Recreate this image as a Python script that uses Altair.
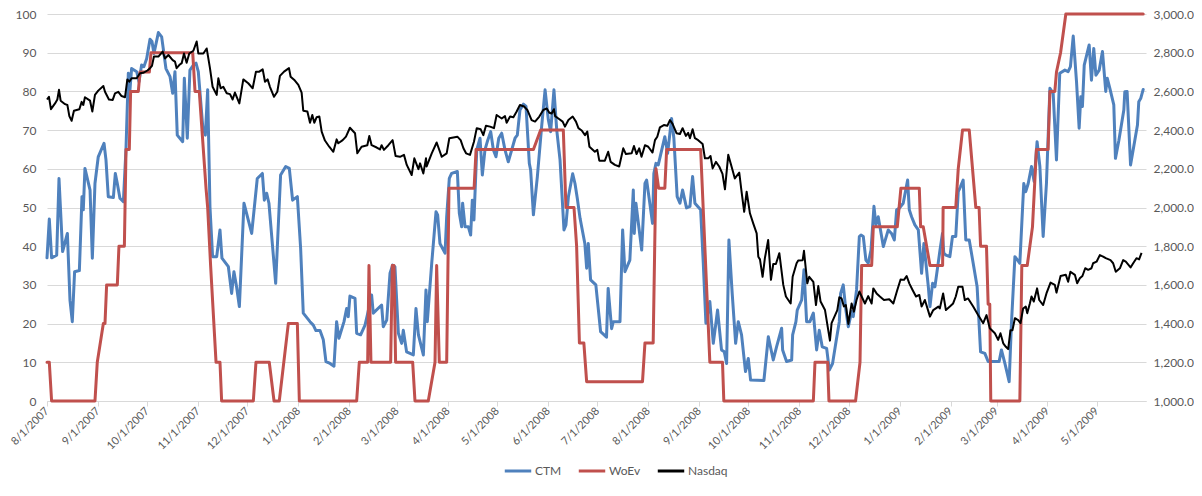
import altair as alt
import pandas as pd

# ---------------- data (days since 8/1/2007) ----------------
ctm_days = [
    0, 1.4, 2.8, 5.9, 7.3, 9.5, 12.4, 14.0, 15.4, 16.8,
    19.7, 21.3, 22.1, 23.1, 26.2, 27.6, 29.2, 31.2, 34.7, 35.9,
    37.3, 40.4, 41.6, 42.8, 44.4, 46.5, 48.1, 49.5, 50.5, 51.5,
    54.6, 56.0, 57.6, 59.0, 60.7, 62.7, 63.9, 65.1, 67.8, 69.8,
    72.4, 74.9, 76.5, 77.9, 79.3, 82.6, 83.6, 85.4, 87.0, 89.1,
    90.7, 92.1, 94.8, 96.4, 97.8, 99.2, 100.8, 103.3, 105.3, 106.5,
    110.4, 112.4, 113.8, 115.4, 117.1, 119.9, 124.6, 128.0, 131.1, 132.3,
    133.7, 135.1, 139.2, 142.2, 145.3, 147.5, 149.5, 152.4, 154.4, 156.0,
    160.1, 162.1, 163.7, 166.2, 168.2, 169.8, 172.3, 174.7, 176.3, 177.7,
    180.8, 182.4, 183.4, 184.4, 187.5, 188.5, 190.9, 193.6, 195.0, 197.6,
    198.6, 203.7, 204.7, 206.8, 208.8, 210.4, 211.8, 213.9, 215.9, 216.9,
    218.9,
    221.0, 223.0, 224.6, 226.1, 229.1, 230.7, 231.5, 234.2, 236.8, 237.8,
    239.2, 242.3, 243.3, 244.9, 246.3, 249.8, 251.0, 252.4, 253.0, 254.5,
    256.5, 257.9, 258.9, 259.9, 261.6, 263.6, 265.0, 266.6, 268.3, 270.1,
    271.7, 273.3, 275.0, 276.8, 278.8, 280.8, 282.9, 284.9, 286.3, 287.9,
    290.0, 291.6, 293.6, 294.4, 296.1, 298.5, 301.1, 303.2, 305.2, 306.6,
    308.6, 310.3, 312.3, 314.7, 315.9, 317.4, 320.0, 321.4, 322.8, 324.5,
    327.4, 328.5, 329.5, 330.9, 334.1, 337.0, 340.6, 341.6, 343.7, 344.7,
    348.8, 350.4, 351.8, 354.8, 356.9, 357.5, 358.5, 362.0, 364.0, 365.0,
    366.4, 368.6, 369.4, 370.7, 372.1, 376.1, 377.8, 380.2, 381.6, 383.6,
    385.3, 386.9, 389.3, 391.4, 393.0, 394.4, 397.9, 399.5, 401.1, 403.5,
    405.6, 408.2, 410.6, 412.3, 413.7, 415.1, 417.1, 419.2, 420.8, 422.8,
    425.2, 426.9, 428.3,
    436.4, 439.1, 442.1, 444.1, 447.2, 447.8, 450.2, 453.3, 453.9, 455.9,
    456.7, 459.4, 460.8, 462.4, 464.4, 466.5, 468.5, 470.1, 471.9, 474.6,
    476.2, 478.2, 480.3, 482.3, 483.1, 484.7, 486.3, 487.8, 489.8, 490.8,
    492.8, 494.5, 495.5, 496.9, 498.5, 499.9, 501.6, 503.4, 504.6, 506.0,
    509.1, 512.1, 514.1, 515.8, 517.2, 518.8, 521.2, 523.9, 524.9, 526.3,
    528.3, 530.4, 532.4, 533.8, 536.5, 537.5, 539.1, 540.5, 543.6,
    545.1, 545.9, 547.2, 549.6, 551.2, 553.2, 554.7, 556.1, 557.7, 559.3,
    561.4, 563.8, 566.2, 568.3, 570.9, 572.9, 579.6, 581.0, 583.1, 585.7,
    587.1, 589.2, 592.2, 594.6, 595.8, 597.3, 599.3, 600.9, 602.7, 604.4,
    606.4, 608.4, 610.5, 612.5, 614.5, 616.5, 619.6, 621.6, 623.0, 624.7,
    626.7, 628.3, 629.3, 630.3, 631.4, 634.4, 635.8, 637.2, 638.5, 640.5,
    642.5, 644.5, 645.4, 647.0, 649.4, 650.4, 652.5, 655.5, 656.1, 657.5,
    659.6, 662.2, 663.8, 664.6, 665.8, 667.3,
]
ctm_values = [
    37, 47, 37, 37.7, 57.5, 38.6, 43.3, 26, 20.5, 33.4,
    33.7, 52.8, 49.4, 60.1, 54.5, 36.9, 56.2, 63.1, 66.6, 62.3,
    52.8, 52.6, 58.8, 56.2, 52.4, 51.5, 65.3, 84.7, 80.4, 85.9,
    85.1, 82.5, 86.8, 86.4, 88.5, 93.5, 92.9, 89.8, 95.2, 94.1,
    85.9, 83.8, 79.5, 85.1, 68.7, 67, 83.4, 67.9, 85.5, 86.8,
    87.3, 85.1, 70.9, 68.7, 80.4, 50.2, 37.3, 37.3, 44.2, 36.9,
    34.7, 27.8, 33.4, 29.5, 24.4, 51.1, 43.3, 57.5, 58.8, 51.9,
    53.7, 51.1, 30.4, 58.4, 60.6, 60.1, 51.9, 52.8, 39.4, 22.7,
    20.5, 19.6, 18.2, 18.2, 15.8, 10.2, 9.7, 9, 20.5, 16.2,
    20.5, 23.9, 21.8, 27.1, 26.5, 17.5, 17.1, 19.6, 22.2, 27.4,
    22.7, 24.8, 19.2, 20.9, 33, 35.1, 34.7, 17.5, 14.9, 18.3,
    12.7,
    12.3, 11.9, 23.9, 17.1, 11.9, 28.7, 20.5, 35.6, 48.9, 48.1,
    40.7, 38.2, 47.6, 57.5, 58.8, 59.3, 48.5, 45, 51.1, 45,
    45, 42.9, 51.9, 46.8, 64.9, 67.9, 58.4, 64.9, 67.4, 69.6,
    64.9, 63.1, 67.9, 69.2, 64.9, 61.8, 64.9, 67.9, 68.7, 75.2,
    76.7, 76.1, 61.4, 59.7, 48.1, 58, 70.9, 80.4, 72.6, 69.6,
    80.4, 70, 62.3, 44.2, 45.5, 52.8, 58.7, 56.2, 52.4, 47.2,
    40.7, 34.3, 40.7, 31.3, 30, 17.9, 16.5, 29.1, 18.7, 20.5,
    20.5, 44.2, 33.4, 36.4, 54.5, 43.3, 51.1, 39, 56.2, 57.1,
    52.8, 45.9, 58.8, 61.4, 61, 68.3, 64, 73, 67.9, 52.8,
    51.1, 54.5, 49.9, 50.3, 58, 51.1, 49.4, 35.6, 20.1, 25.7,
    14.9, 23.5, 13.2, 12.7, 9.7, 41.6, 27.8, 14.9, 20.5, 17.1,
    7.6, 11, 5.4,
    5.3, 16.6, 10.6, 14, 18.8, 13.2, 10.2, 10.6, 17.1, 20.5,
    23.5, 26.1, 33.9, 20.5, 20.5, 22.7, 13.2, 18.3, 14, 13.6,
    8, 9.7, 15.3, 20.5, 27.8, 30, 23.5, 19.2, 23.1, 21.8,
    28.7, 42.5, 42.9, 42.5, 36.4, 35.6, 39, 50.3, 45.5, 47.6,
    39.9, 44.2, 43.3, 41.6, 49.4, 49.8, 51.1, 57.1, 49.4, 47.6,
    45.5, 44.2, 33, 40.7, 29.5, 24.4, 30.4, 29.5, 39,
    43.3, 38.2, 37.7, 37.3, 42.5, 42.5, 54.1, 55.4, 57.1, 41.6,
    41.6, 35.6, 29.5, 12.7, 12.3, 10.2, 10.2, 13.2, 9.7, 5,
    20.1, 37.3, 35.6, 56.2, 54.1, 56.2, 60.6, 56.7, 67, 60.6,
    42.5, 56.2, 80.8, 79.5, 62.3, 84.7, 85.5, 85.1, 86.4, 94.3,
    82.5, 70.5, 78.6, 76.1, 86.8, 92, 82.9, 91.1, 84.2, 85.5,
    90.3, 80, 83.4, 80.8, 76.5, 62.7, 67.4, 75.2, 79.9, 80,
    61, 67.4, 71.3, 77.3, 78.2, 80.5,
]

woev_days = [
    0, 1.4, 2.8, 29.2, 30.6, 34.3, 35.3, 36.3, 42.8, 43.8,
    47.1, 48.1, 50.1, 50.9, 55.6, 56.6, 62.3, 63.3, 88.7, 90.1,
    92.7, 96.8, 97.8, 99.6, 102.9, 105.3, 106.3, 125.6, 127.2, 135.3,
    138.2, 141.4, 146.9, 152.4, 153.6, 188.5, 190.1, 195.2, 196.0, 197.2,
    209.2, 210.2, 211.2, 212.2, 222.6, 224.0, 232.1, 236.2, 237.2, 238.8,
    243.3, 244.7, 260.0, 261.2, 296.1, 300.5, 314.3, 315.9, 320.8, 322.4,
    324.1, 326.8, 328.5, 362.5, 364.0, 369.0, 370.7, 372.3, 376.1, 377.2,
    397.9, 403.5, 411.2, 412.0, 466.5, 467.5, 475.2, 476.0, 492.2, 494.9,
    495.9, 502.0, 503.0, 517.6, 519.8, 531.0, 531.8, 533.4, 537.5, 545.2,
    545.5, 553.2, 554.7, 557.3, 561.4, 565.4, 567.4, 568.3, 571.9, 572.9,
    573.9, 574.5, 592.2, 593.4, 596.7, 599.9, 602.3, 609.4, 610.5, 613.5,
    614.5, 617.0, 620.2, 667.3,
]
woev_values = [
    10, 10, 0, 0, 10, 20, 20, 30, 30, 40,
    40, 65, 65, 80, 80, 85, 85, 90, 90, 80,
    80, 55, 50, 35, 10, 10, 0, 0, 10, 10,
    0, 0, 20, 20, 0, 0, 10, 10, 35, 10,
    10, 35, 35, 10, 10, 0, 0, 10, 35, 10,
    10, 55, 55, 65, 65, 70, 70, 50, 50, 40,
    15, 15, 5, 5, 15, 15, 60, 55, 55, 65,
    65, 10, 10, 0, 0, 10, 10, 0, 0, 10,
    35, 35, 45, 45, 55, 55, 45, 45, 35, 35,
    50, 50, 60, 70, 70, 50, 50, 40, 40, 25,
    25, 0, 0, 35, 35, 45, 65, 65, 80, 80,
    85, 90, 100, 100,
]

nasdaq_days = [
    0, 1.2, 2.4, 4.9, 6.3, 7.3, 8.3, 11.0, 12.4, 13.6,
    15.0, 16.4, 19.7, 21.1, 22.1, 23.1, 26.2, 27.6, 29.2, 31.2,
    34.3, 35.3, 37.7, 40.0, 41.4, 43.4, 45.4, 47.5, 48.9, 50.1,
    51.5, 54.6, 56.6, 58.6, 61.1, 62.7, 63.9, 65.1, 67.8, 70.4,
    71.8, 73.9, 76.5, 77.9, 78.9, 80.5, 82.0, 83.4, 85.0, 86.6,
    89.1, 91.1, 92.1, 95.2, 97.2, 99.2, 100.8, 103.3, 104.3, 105.7,
    107.3, 109.4, 111.4,
    113.0, 114.4, 117.1, 119.5, 122.5, 125.2, 127.2, 129.2, 131.3, 132.7,
    134.3, 135.7, 138.2, 140.2, 141.8, 144.3, 147.3, 148.3, 150.9, 153.0,
    155.0, 156.0, 158.5, 160.1, 161.5, 162.7, 164.1, 165.8, 167.2, 169.2,
    171.8, 174.3, 176.3, 177.3, 180.0, 182.0, 184.4, 187.5, 188.9, 191.5,
    195.0, 196.2, 197.6, 200.7, 202.7, 203.7, 205.1, 207.8, 210.4, 212.2,
    214.9,
    217.3, 219.0, 222.0, 223.6, 226.1, 227.1, 229.1, 230.7, 231.1, 234.2,
    237.2, 240.3, 243.3, 244.9, 247.4, 249.8, 251.8, 253.5, 255.1, 257.5,
    259.9, 261.6, 264.0, 265.6, 267.2, 269.7, 272.1, 273.7, 276.8, 278.8,
    279.8, 281.9, 283.9, 285.9, 287.9, 290.4, 292.4, 295.0, 297.1, 299.7,
    302.1, 304.2, 305.8, 307.2, 308.6, 309.3, 311.3, 313.9, 315.3, 317.4,
    320.0, 322.0, 323.5, 325.5, 327.5, 328.9, 330.2,
    333.5, 335.0, 336.2, 339.6, 341.6, 343.1, 345.7, 348.3, 350.8, 352.4,
    355.9, 357.3, 358.9, 360.5, 361.9, 364.0, 366.0, 368.6, 370.1, 371.5,
    373.1, 375.5, 377.6, 379.2, 380.8, 383.2, 385.3, 386.9, 388.9, 390.3,
    391.4, 393.0, 394.4, 396.4, 399.1, 400.5, 402.5, 403.9, 405.2, 407.2,
    409.2, 411.2, 412.7, 414.7, 417.3, 418.7, 421.4, 422.8, 424.4, 425.9,
    427.9, 429.9, 432.0, 433.0, 434.0, 435.6, 437.0, 439.0,
    440.7, 442.1, 443.7, 445.8, 448.2, 449.8, 452.7, 453.9, 456.3, 457.3,
    460.0, 460.8, 462.8, 464.0, 466.5, 468.1, 469.5, 470.9, 473.6, 476.6,
    477.6, 481.1, 482.3, 483.7, 485.1, 486.3, 487.8, 489.8, 491.2, 492.8,
    494.5, 495.9, 497.9, 499.9, 502.0, 503.0, 505.0, 507.0, 509.5, 512.7,
    515.2, 517.6, 519.6, 521.7, 523.3, 524.9, 526.9, 529.0, 531.0, 532.4,
    534.4, 537.5, 539.5, 542.6,
    543.5, 545.5, 547.2, 549.6, 551.6, 553.2, 554.7, 557.3, 558.7, 560.7,
    563.8, 566.8, 569.9, 571.9, 573.9, 577.0, 579.0, 580.4, 582.1, 583.7,
    585.1, 586.5, 587.7, 589.2, 591.2, 592.6, 594.2, 595.8, 596.7, 598.3,
    599.3, 600.7, 602.7, 604.0, 606.4, 608.4, 610.9, 613.5, 614.5, 617.0,
    620.2, 621.6, 623.0, 625.7, 627.1, 628.7, 630.3, 632.0, 633.8, 635.8,
    636.8, 638.9, 640.9, 642.9, 644.5, 647.4, 649.0, 650.6, 653.1, 655.1,
    656.7, 659.6, 661.2, 663.2, 664.8, 666.3,
]
nasdaq_values = [
    2558, 2572, 2508, 2538, 2558, 2608, 2552, 2534, 2530, 2472,
    2448, 2500, 2508, 2546, 2530, 2570, 2552, 2496, 2582, 2604,
    2628, 2598, 2558, 2556, 2590, 2598, 2576, 2570, 2662, 2650,
    2668, 2668, 2694, 2696, 2708, 2720, 2732, 2780, 2780, 2806,
    2770, 2788, 2762, 2754, 2720, 2736, 2746, 2796, 2748, 2796,
    2810, 2858, 2796, 2796, 2822, 2720, 2624, 2582, 2668, 2616,
    2624, 2590, 2586,
    2558, 2594, 2538, 2662, 2642, 2616, 2702, 2702, 2714, 2650,
    2662, 2624, 2572, 2598, 2680, 2702, 2720, 2676, 2656, 2634,
    2594, 2500, 2496, 2438, 2478, 2438, 2466, 2470, 2392, 2346,
    2314, 2288, 2352, 2332, 2348, 2366, 2412, 2384, 2280, 2314,
    2322, 2370, 2322, 2310, 2300, 2322, 2298, 2322, 2348, 2266,
    2262,
    2272, 2220, 2168, 2254, 2198, 2228, 2176, 2254, 2212, 2280,
    2336, 2262, 2280, 2358, 2362, 2366, 2348, 2306, 2280, 2272,
    2340, 2410, 2404, 2374, 2422, 2418, 2410, 2478, 2460, 2472,
    2438, 2470, 2466, 2496, 2530, 2522, 2504, 2452, 2444, 2470,
    2504, 2512, 2490, 2486, 2508, 2472, 2460, 2444, 2418, 2452,
    2470, 2444, 2410, 2398, 2374, 2392, 2314,
    2288, 2298, 2242, 2242, 2288, 2236, 2220, 2212, 2306, 2276,
    2280, 2318, 2276, 2306, 2262, 2322, 2314, 2284, 2348, 2366,
    2414, 2426, 2422, 2452, 2432, 2384, 2380, 2410, 2370, 2386,
    2358, 2404, 2358, 2348, 2328, 2254, 2254, 2266, 2202, 2236,
    2212, 2174, 2094, 2272, 2194, 2150, 2180, 2082, 1978, 2082,
    1970, 1918, 1866, 1746, 1732, 1642, 1738, 1832,
    1626, 1708, 1708, 1764, 1600, 1540, 1504, 1642, 1712, 1726,
    1728, 1776, 1608, 1642, 1616, 1496, 1594, 1514, 1470, 1312,
    1402, 1470, 1536, 1530, 1488, 1496, 1398, 1504, 1462, 1522,
    1566, 1540, 1504, 1542, 1504, 1582, 1556, 1540, 1522, 1526,
    1504, 1574, 1628, 1626, 1646, 1608, 1574, 1540, 1548, 1488,
    1522, 1436, 1470, 1488,
    1478, 1556, 1470, 1488, 1504, 1540, 1590, 1590, 1522, 1530,
    1488, 1444, 1402, 1444, 1376, 1350, 1316, 1350, 1298, 1280,
    1268, 1366, 1366, 1428, 1418, 1402, 1478, 1488, 1454, 1504,
    1540, 1514, 1582, 1522, 1496, 1556, 1612, 1600, 1560, 1646,
    1652, 1616, 1668, 1652, 1608, 1634, 1646, 1686, 1678, 1686,
    1712, 1720, 1754, 1746, 1738, 1728, 1712, 1668, 1686, 1728,
    1720, 1690, 1712, 1738, 1732, 1766,
]

series_names = ["CTM", "WoEv", "Nasdaq"]
series_colors = ["#4F81BD", "#C0504D", "#000000"]

assert len(ctm_days) == len(ctm_values), (len(ctm_days), len(ctm_values))
assert len(woev_days) == len(woev_values), (len(woev_days), len(woev_values))
assert len(nasdaq_days) == len(nasdaq_values), (len(nasdaq_days), len(nasdaq_values))

start = pd.Timestamp("2007-08-01")


def frame(days, values, name):
    return pd.DataFrame({
        "date": start + pd.to_timedelta(days, unit="D"),
        "value": values,
        "series": name,
    })


ctm_df = frame(ctm_days, ctm_values, "CTM")
woev_df = frame(woev_days, woev_values, "WoEv")
nas_df = frame(nasdaq_days, nasdaq_values, "Nasdaq")

FONT = "Lato"
LABEL = "#595959"
GRID = "#D9D9D9"

month_starts = pd.date_range("2007-08-01", "2009-05-01", freq="MS")
tick_dates = [alt.DateTime(year=int(d.year), month=int(d.month), date=1) for d in month_starts]

x_enc = alt.X(
    "date:T",
    title=None,
    scale=alt.Scale(domain=[alt.DateTime(year=2007, month=8, date=1),
                            alt.DateTime(year=2009, month=5, date=31)], nice=False),
    axis=alt.Axis(values=tick_dates, format="%-m/%-d/%Y", labelAngle=-45,
                  labelAlign="right", labelBaseline="middle", grid=False,
                  domainColor=GRID, tickColor=GRID, tickSize=5, labelPadding=3,
                  labelFont=FONT, labelFontSize=11, labelColor=LABEL,
                  labelOverlap=False, labelFlush=False, labelBound=False),
)

y_left = alt.Y(
    "value:Q", title=None,
    scale=alt.Scale(domain=[0, 100], nice=False, zero=False),
    axis=alt.Axis(values=list(range(0, 101, 10)), orient="left", grid=True,
                  gridColor=GRID, domain=False, ticks=False, labelPadding=11,
                  labelFont=FONT, labelFontSize=12, labelColor=LABEL, format="d"),
)

y_right = alt.Y(
    "value:Q", title=None,
    scale=alt.Scale(domain=[1000, 3000], nice=False, zero=False),
    axis=alt.Axis(values=list(range(1000, 3001, 200)), orient="right", grid=False,
                  domain=False, ticks=False, labelPadding=7, format=",.1f",
                  labelFont=FONT, labelFontSize=12, labelColor=LABEL),
)

color_enc = alt.Color(
    "series:N",
    scale=alt.Scale(domain=series_names, range=series_colors),
    legend=alt.Legend(title=None, orient="none", legendX=456, legendY=442,
                      direction="horizontal", symbolType="stroke", symbolSize=700,
                      symbolStrokeWidth=3, labelFont=FONT, labelFontSize=12,
                      labelColor=LABEL, labelOffset=2, columnPadding=10),
)

ctm_line = alt.Chart(ctm_df).mark_line(strokeWidth=3, strokeJoin="round", strokeCap="round").encode(
    x=x_enc, y=y_left, color=color_enc)
woev_line = alt.Chart(woev_df).mark_line(strokeWidth=3, strokeJoin="round", strokeCap="round").encode(
    x=x_enc, y=y_left, color=color_enc)
nas_line = alt.Chart(nas_df).mark_line(strokeWidth=2, strokeJoin="round").encode(
    x=x_enc, y=y_right, color=color_enc)

chart = (
    alt.layer(alt.layer(ctm_line, woev_line), nas_line)
    .resolve_scale(y="independent")
    .properties(width=1099, height=387,
                padding={"left": 39, "top": 6, "right": 48, "bottom": 84},
                autosize=alt.AutoSizeParams(type="none"),
                background="white")
    .configure_view(strokeWidth=0)
)

chart.save("out.html", embed_options={"renderer": "svg", "actions": False})
